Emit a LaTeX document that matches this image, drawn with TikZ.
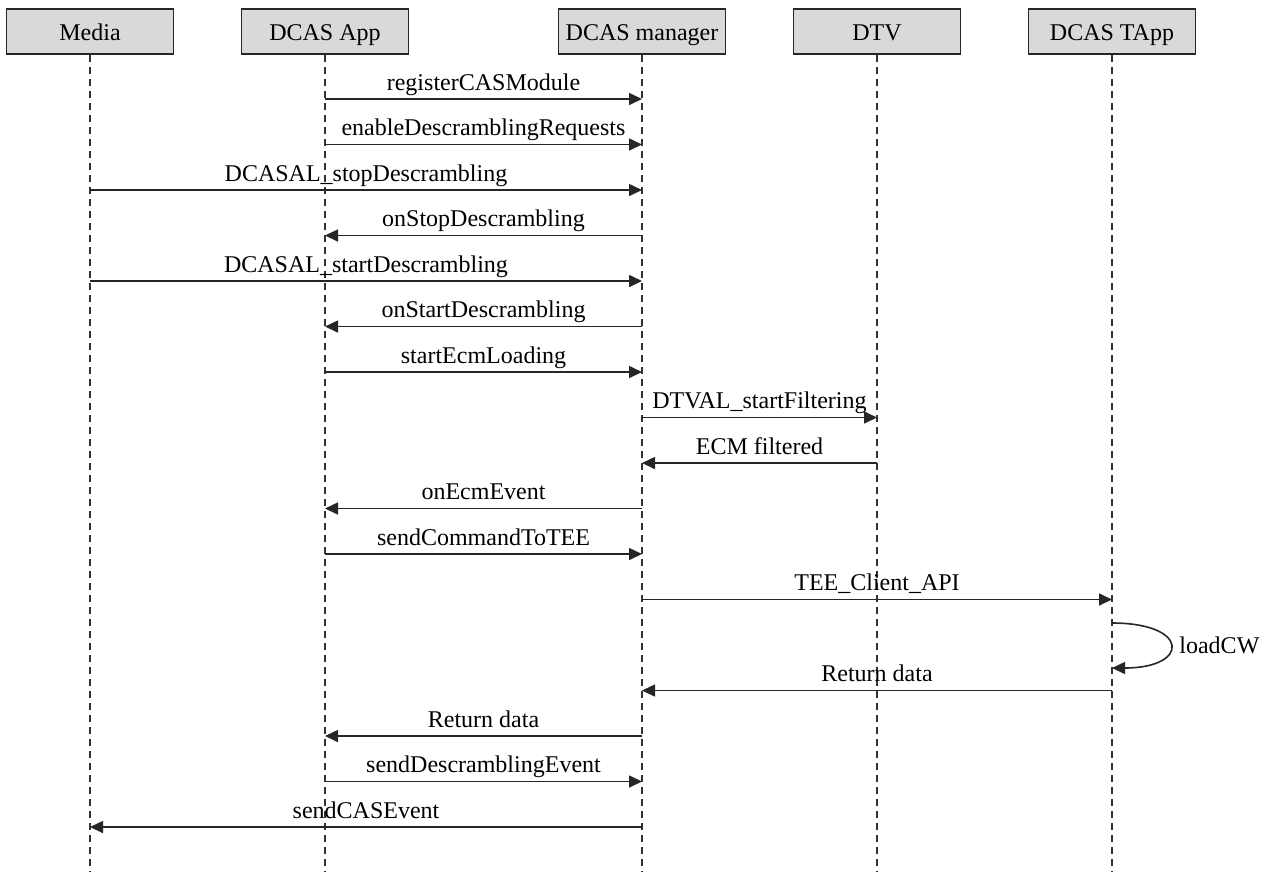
\documentclass[tikz,border=0pt]{standalone}
\usepackage{fontspec}
\setmainfont{Liberation Serif}
\usetikzlibrary{arrows.meta}

\begin{document}
\begin{tikzpicture}[
x=0.5pt, y=-0.5pt,
every node/.style={font=\fontsize{12}{14}\selectfont},
actor/.style={draw=black!85, line width=0.9pt, fill=black!15, rectangle, minimum width=83.5pt, minimum height=22.5pt, inner sep=0pt, text height=8.5pt, text depth=0pt},
life/.style={draw=black!80, line width=0.8pt, dash pattern=on 3.5pt off 2.5pt},
msg/.style={draw=black!85, line width=0.8pt, -{Triangle[length=6.5pt, width=6pt]}},
lbl/.style={anchor=base, yshift=4.5pt, inner sep=0pt}
]
\useasboundingbox (0,0) rectangle (1268,874);

\node[actor] (media) at (90,31.5) {Media};
\node[actor] (app) at (325,31.5) {DCAS App};
\node[actor] (mgr) at (642,31.5) {DCAS manager};
\node[actor] (dtv) at (877,31.5) {DTV};
\node[actor] (tapp) at (1112,31.5) {DCAS TApp};

\draw[life] (media.south) -- (media |- 0,871);
\draw[life] (app.south) -- (app |- 0,871);
\draw[life] (mgr.south) -- (mgr |- 0,871);
\draw[life] (dtv.south) -- (dtv |- 0,871);
\draw[life] (tapp.south) -- (tapp |- 0,871);

\draw[msg] (app |- 0,99) -- node[lbl] {registerCASModule} (mgr |- 0,99);
\draw[msg] (app |- 0,144.5) -- node[lbl] {enableDescramblingRequests} (mgr |- 0,144.5);
\draw[msg] (media |- 0,190) -- node[lbl] {DCASAL\_stopDescrambling} (mgr |- 0,190);
\draw[msg] (mgr |- 0,235.5) -- node[lbl] {onStopDescrambling} (app |- 0,235.5);
\draw[msg] (media |- 0,281) -- node[lbl] {DCASAL\_startDescrambling} (mgr |- 0,281);
\draw[msg] (mgr |- 0,326.5) -- node[lbl] {onStartDescrambling} (app |- 0,326.5);
\draw[msg] (app |- 0,372) -- node[lbl] {startEcmLoading} (mgr |- 0,372);
\draw[msg] (mgr |- 0,417.5) -- node[lbl] {DTVAL\_startFiltering} (dtv |- 0,417.5);
\draw[msg] (dtv |- 0,463) -- node[lbl] {ECM filtered} (mgr |- 0,463);
\draw[msg] (mgr |- 0,508.5) -- node[lbl] {onEcmEvent} (app |- 0,508.5);
\draw[msg] (app |- 0,554) -- node[lbl] {sendCommandToTEE} (mgr |- 0,554);
\draw[msg] (mgr |- 0,599.5) -- node[lbl] {TEE\_Client\_API} (tapp |- 0,599.5);

% self call on the TApp
\draw[msg] (tapp |- 0,623) .. controls (1190,623) and (1190,668) .. (tapp |- 0,668);
\node[anchor=west, inner sep=0pt] (cw) at (1179,645) {loadCW};

\draw[msg] (tapp |- 0,690.5) -- node[lbl] {Return data} (mgr |- 0,690.5);
\draw[msg] (mgr |- 0,736) -- node[lbl] {Return data} (app |- 0,736);
\draw[msg] (app |- 0,781.5) -- node[lbl] {sendDescramblingEvent} (mgr |- 0,781.5);
\draw[msg] (mgr |- 0,827) -- node[lbl] {sendCASEvent} (media |- 0,827);

\end{tikzpicture}
\end{document}
